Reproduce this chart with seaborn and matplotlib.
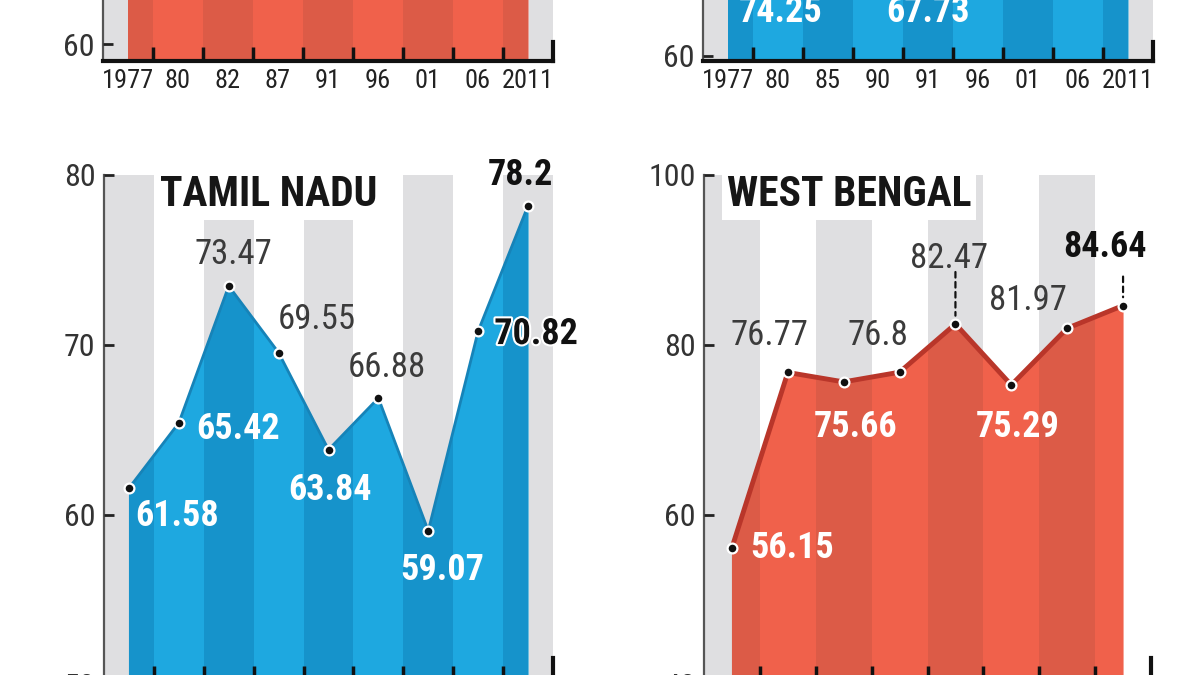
import numpy as np
import matplotlib
matplotlib.use("Agg")
import matplotlib.pyplot as plt
import matplotlib.patheffects as pe
import seaborn as sns

# ==============================
# DATA (voter turnout, %)
# ==============================

# top panels are cut off by the crop: only the lower edge shows,
# so most of these values are estimates hidden above the picture
kerala_years = ["1977", "80", "82", "87", "91", "96", "01", "06", "2011"]
kerala_turnout = [79.2, 74.6, 74.6, 80.5, 73.4, 71.2, 72.4, 72.4, 75.1]

puducherry_years = ["1977", "80", "85", "90", "91", "96", "01", "06", "2011"]
puducherry_turnout = [77.0, 74.25, 80.0, 83.0, 67.73, 79.0, 71.0, 86.0, 86.19]

# bottom panels: year labels fall below the crop
tn_turnout = [61.58, 65.42, 73.47, 69.55, 63.84, 66.88, 59.07, 70.82, 78.2]
wb_turnout = [56.15, 76.77, 75.66, 76.8, 82.47, 75.29, 81.97, 84.64]

# ==============================
# STYLE
# ==============================

sns.set_theme(style="white")
plt.rcParams["font.family"] = ["Roboto Condensed", "Liberation Sans Narrow", "Roboto", "DejaVu Sans"]

W, H = 1200, 675
BAND = "#dfdfe1"
RED = {"light": "#f0614b", "dark": "#dc5b47", "line": "#b9362a", "lw": 3.5}
BLUE = {"light": "#1ea8e0", "dark": "#1693cb", "line": "#1683b8", "lw": 2.0}

LABEL_STYLES = {
    "in": dict(color="white", fontsize=26, fontweight="bold"),
    "out": dict(color="#3b3b3b", fontsize=25),
    "key": dict(color="#111111", fontsize=26, fontweight="bold"),
    "halo": dict(color="#111111", fontsize=26, fontweight="bold",
                 path_effects=[pe.withStroke(linewidth=3, foreground="white")]),
}

# label placement: index -> (style, dx px, dy px)
tn_labels = {0: ("in", 48, -28), 1: ("in", 59, -6), 2: ("out", 5, 32),
             3: ("out", 38, 33), 4: ("in", 2, -40), 5: ("out", 8, 31),
             6: ("in", 14, -39), 7: ("halo", 58, -3), 8: ("key", -8, 31)}
wb_labels = {0: ("in", 60, 0), 1: ("out", -18, 37), 2: ("in", 12, -45),
             3: ("out", -22, 37), 4: ("out", -6, 66), 5: ("in", 6, -42),
             6: ("out", -39, 28), 7: ("key", -18, 59)}
wb_leaders = {4: 52, 7: 29}
puducherry_labels = {1: ("in", 3, -104), 4: ("in", 0, -37)}


def add_panel(left, right, top, bottom):
    return fig.add_axes([left / W, 1 - bottom / H, (right - left) / W, (bottom - top) / H])


def draw_panel(ax, values, lo, hi, yticks, colours, labels, years=None,
               leaders=None, title=None, title_x=0.1, tick_len=10):
    n = len(values)
    x = np.arange(n)
    ax.set_xlim(-0.5, n - 0.5)
    ax.set_ylim(lo, hi)
    ax.set_axisbelow(False)

    # alternating grey columns
    for k in range(0, n, 2):
        ax.axvspan(k - 0.5, k + 0.5, color=BAND, lw=0, zorder=0)

    # area under the line, darker where it crosses a grey column
    area = ax.fill_between(x, values, lo, color=colours["light"], lw=0, zorder=1)
    clip = area.get_paths()[0]
    for k in range(0, n, 2):
        shade = ax.axvspan(k - 0.5, k + 0.5, color=colours["dark"], lw=0, zorder=1.5)
        shade.set_clip_path(clip, ax.transData)

    sns.lineplot(x=x, y=values, ax=ax, color=colours["line"], lw=colours["lw"], zorder=2)
    sns.scatterplot(x=x, y=values, ax=ax, s=50, color="#111111", edgecolor="white",
                    linewidth=1.6, zorder=3, clip_on=False)

    for i, (style, dx, dy) in labels.items():
        ax.annotate(f"{values[i]:g}", (x[i], values[i]), xytext=(dx, dy),
                    textcoords="offset pixels", ha="center", va="center",
                    annotation_clip=False, zorder=4, **LABEL_STYLES[style])

    for i, lead in (leaders or {}).items():
        ax.annotate("", (x[i], values[i]), xytext=(0, lead), textcoords="offset pixels",
                    annotation_clip=False,
                    arrowprops=dict(arrowstyle="-", color="#111111", lw=1.6,
                                    linestyle=(0, (2.5, 2)), shrinkA=0, shrinkB=6))

    if title:
        ax.text(title_x, 0.962, title, transform=ax.transAxes, ha="left", va="center",
                fontsize=30, fontweight="bold", color="#161616", zorder=5,
                bbox=dict(boxstyle="square,pad=0.12", fc="white", ec="none"))

    # axes and ticks
    if years:
        ax.set_xticks(x, years)
    else:
        ax.set_xticks([])
    ax.tick_params(axis="x", which="major", length=0, pad=6, labelsize=19,
                   labelcolor="#222222")
    ax.set_xticks(np.arange(n - 1) + 0.5, minor=True)
    ax.tick_params(axis="x", which="minor", bottom=True, direction="in", length=tick_len,
                   width=2.5, color="#111111")
    ax.set_yticks(yticks, [str(t) for t in yticks])
    ax.tick_params(axis="y", left=True, direction="in", length=7, width=2, color="#222222",
                   labelsize=23, labelcolor="#333333", pad=6)

    per_px = (hi - lo) / (ax.get_position().height * H)
    ax.spines["top"].set_visible(False)
    ax.spines["right"].set_bounds(lo, lo + tick_len * 1.9 * per_px)
    ax.spines["right"].set_linewidth(3)
    ax.spines["right"].set_color("#111111")
    ax.spines["bottom"].set_linewidth(3)
    ax.spines["bottom"].set_color("#111111")
    ax.spines["left"].set_linewidth(1.6)
    ax.spines["left"].set_color("#555555")
    ax.set_xlabel("")
    ax.set_ylabel("")


# ==============================
# FIGURE
# ==============================

fig = plt.figure(figsize=(W / 100, H / 100), dpi=100)

ax_kl = add_panel(103, 553, 61 - 507, 61)
draw_panel(ax_kl, kerala_turnout, 59, 89, [60], RED, {}, years=kerala_years)

ax_py = add_panel(703, 1153, 61 - 507, 61)
draw_panel(ax_py, puducherry_turnout, 59.5, 108.25, [60], BLUE, puducherry_labels,
           years=puducherry_years)

ax_tn = add_panel(104, 553, 175, 685)
draw_panel(ax_tn, tn_turnout, 50, 80, [50, 60, 70, 80], BLUE, tn_labels,
           title="TAMIL NADU", title_x=0.125, tick_len=14)

ax_wb = add_panel(704, 1151, 175, 685)
draw_panel(ax_wb, wb_turnout, 40, 100, [40, 60, 80, 100], RED, wb_labels,
           leaders=wb_leaders, title="WEST BENGAL", title_x=0.051, tick_len=14)

fig.savefig("out.png", dpi=100)
